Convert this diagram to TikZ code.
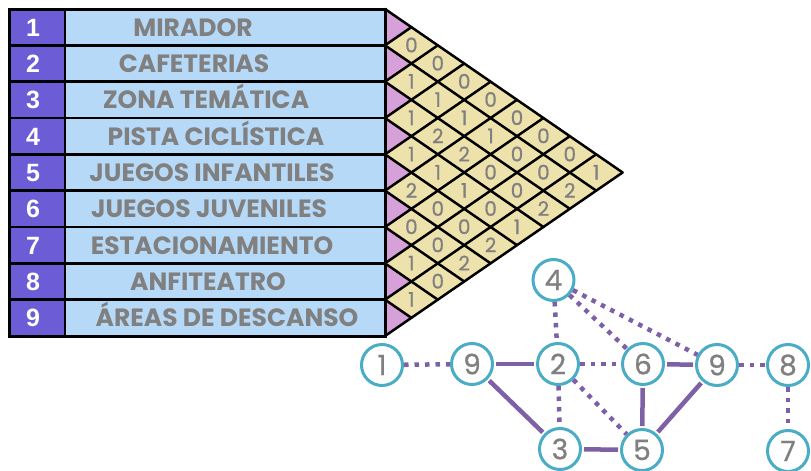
\documentclass[tikz,border=0pt]{standalone}
\usepackage{fontspec}
\newfontfamily\labfont{Poppins}
\newfontfamily\digfont{Poppins}[FakeBold=0.8]
\newfontfamily\numfont{Liberation Sans}
\definecolor{numblue}{RGB}{108,92,214}
\definecolor{nameblue}{RGB}{182,217,248}
\definecolor{cellpink}{RGB}{214,160,216}
\definecolor{cellyellow}{RGB}{238,226,172}
\definecolor{txtgray}{RGB}{128,128,128}
\definecolor{placeteal}{RGB}{75,172,198}
\definecolor{linkpurple}{RGB}{125,96,165}

\begin{document}
\begin{tikzpicture}[x=1pt,y=-1pt,
	numtxt/.style={text=white,font=\numfont\bfseries\fontsize{25}{30}\selectfont,text height=18pt,text depth=0pt,inner sep=0pt},
	labtxt/.style={text=txtgray,font=\labfont\bfseries\fontsize{25}{30}\selectfont,text height=18pt,text depth=0pt,inner sep=0pt},
	val/.style={text=txtgray,font=\digfont\fontsize{20}{24}\selectfont,text height=14pt,text depth=0pt,inner sep=0pt},
	gridline/.style={line width=2.5pt,line cap=round},
	place/.style={circle,draw=placeteal,line width=3pt,fill=white,minimum size=41pt,inner sep=0pt,text=txtgray,font=\digfont\fontsize{28}{32}\selectfont},
	strong/.style={draw=linkpurple,line width=4.5pt,shorten >=2pt,shorten <=2pt},
	weak/.style={draw=linkpurple,line width=4.5pt,dash pattern=on 4.5pt off 6pt},
	]
	%\draw[color=gray,step=10pt, help lines,opacity=0.3] (0,0) grid (811,471); %help grids
	\useasboundingbox (0,0) rectangle (811,471);
	% table
	\fill[numblue] (9,9) rectangle (65,336);
	\fill[nameblue] (65,9) rectangle (385,336);
	\foreach \k in {1,...,8} \draw[line width=2.5pt] (9,{9+\k*36.333}) -- (385,{9+\k*36.333});
	\draw[line width=2.5pt] (65,9) -- (65,336);
	\node[numtxt] (num1) at (33,27.2) {1};
	\node[numtxt] (num2) at (33,63.5) {2};
	\node[numtxt] (num3) at (33,99.8) {3};
	\node[numtxt] (num4) at (33,136.1) {4};
	\node[numtxt] (num5) at (33,172.4) {5};
	\node[numtxt] (num6) at (33,208.7) {6};
	\node[numtxt] (num7) at (33,245) {7};
	\node[numtxt] (num8) at (33,281.3) {8};
	\node[numtxt] (num9) at (33,317.6) {9};
	\node[labtxt] (lab1) at (193,27.2) {MIRADOR};
	\node[labtxt] (lab2) at (194,63.5) {CAFETERIAS};
	\node[labtxt] (lab3) at (206,99.8) {ZONA TEMÁTICA};
	\node[labtxt] (lab4) at (216,136.1) {PISTA CICLÍSTICA};
	\node[labtxt] (lab5) at (212,172.4) {JUEGOS INFANTILES};
	\node[labtxt] (lab6) at (209,208.7) {JUEGOS JUVENILES};
	\node[labtxt] (lab7) at (212,245) {ESTACIONAMIENTO};
	\node[labtxt] (lab8) at (208,281.3) {ANFITEATRO};
	\node[labtxt] (lab9) at (227,317.6) {ÁREAS DE DESCANSO};
	% triangle matrix
	\fill[cellyellow] (385,9) -- (622.6,172.5) -- (385,336) -- cycle;
	\foreach \i in {1,...,9} \fill[cellpink] (385,{9+(\i-1)*36.333}) -- (411.4,{9+(\i-0.5)*36.333}) -- (385,{9+\i*36.333}) -- cycle;
	\foreach \k in {0,...,9} {
		\draw[gridline] (385,{9+\k*36.333}) -- ({385+(9-\k)*26.4},{(345+\k*36.333)/2});
		\draw[gridline] (385,{9+\k*36.333}) -- ({385+\k*26.4},{(18+\k*36.333)/2});
	}
	\draw[line width=3pt] (9,9) rectangle (385,336);
	\foreach \i/\j/\wt in {1/2/0,1/3/0,1/4/0,1/5/0,1/6/0,1/7/0,1/8/0,1/9/1,
		2/3/1,2/4/1,2/5/1,2/6/1,2/7/0,2/8/0,2/9/2,
		3/4/1,3/5/2,3/6/2,3/7/0,3/8/0,3/9/2,
		4/5/1,4/6/1,4/7/1,4/8/0,4/9/1,
		5/6/2,5/7/0,5/8/0,5/9/2,
		6/7/0,6/8/0,6/9/2,
		7/8/1,7/9/0,
		8/9/1}
		\node[val] (v\i\j) at ({385+(\j-\i)*26.4},{9+(\i+\j-1)*18.167}) {\wt};
	% graph
	\node[place] (g4) at (553.5,280) {4};
	\node[place] (g1) at (382,365) {1};
	\node[place] (g9) at (472,364) {9};
	\node[place] (g2) at (558,364) {2};
	\node[place] (g6) at (643,364) {6};
	\node[place] (g9b) at (717,365) {9};
	\node[place] (g8) at (788,365) {8};
	\node[place] (g3) at (560,449) {3};
	\node[place] (g5) at (642,450) {5};
	\node[place] (g7) at (788,451) {7};
	\draw[weak] (g1) -- (g9);
	\draw[strong] (g9) -- (g2);
	\draw[weak] (g2) -- (g6);
	\draw[strong] (g6) -- (g9b);
	\draw[weak] (g9b) -- (g8);
	\draw[weak] (g8) -- (g7);
	\draw[weak] (g4) -- (g2);
	\draw[weak] (g4) -- (g6);
	\draw[weak] (g4) -- (g9b);
	\draw[strong] (g9) -- (g3);
	\draw[weak] (g2) -- (g3);
	\draw[weak] (g2) -- (g5);
	\draw[strong] (g6) -- (g5);
	\draw[strong] (g3) -- (g5);
	\draw[strong] (g5) -- (g9b);
\end{tikzpicture}
\end{document}
